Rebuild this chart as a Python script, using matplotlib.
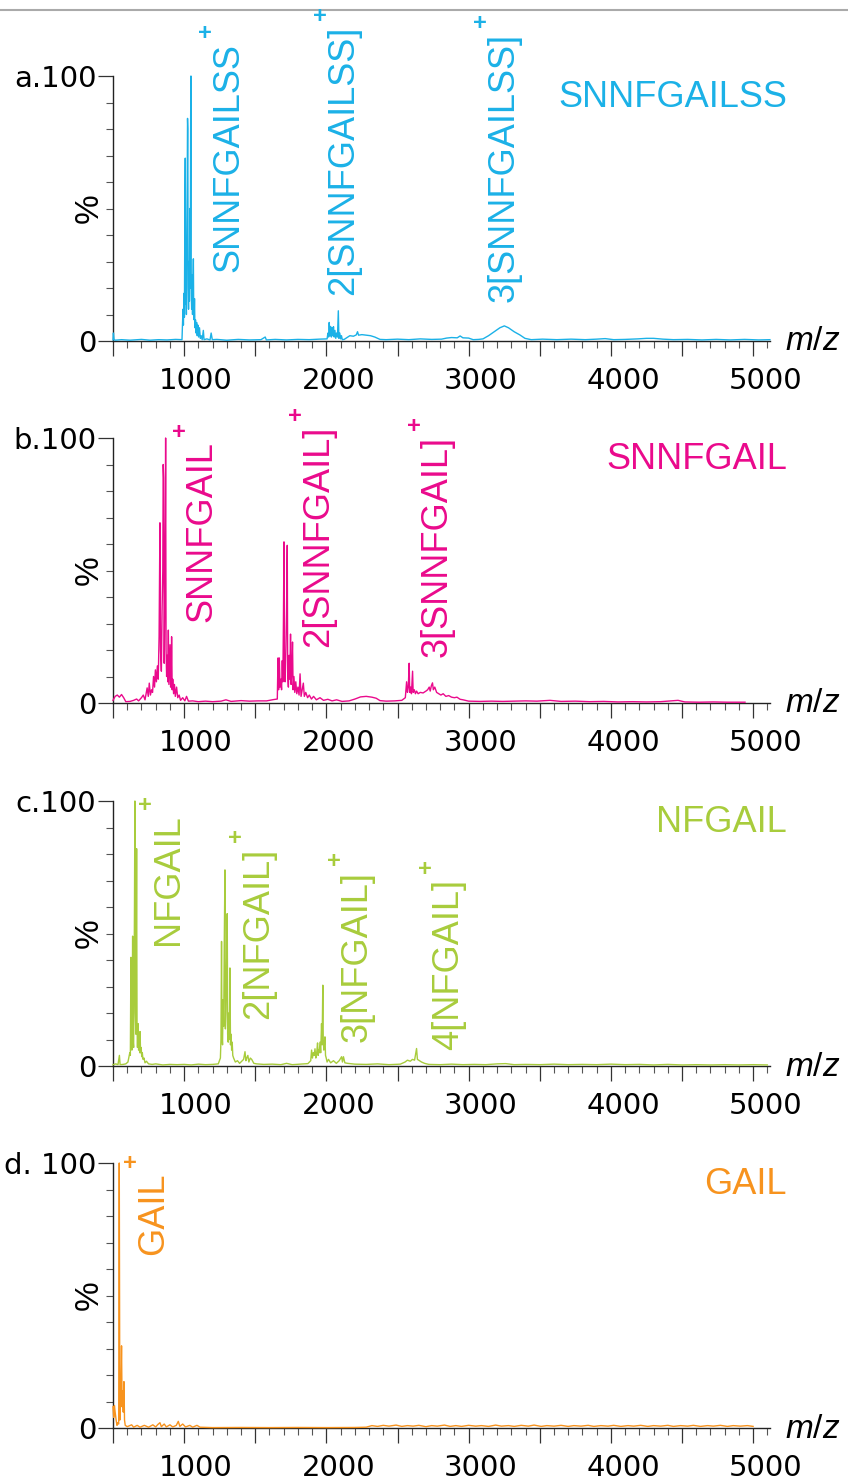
import matplotlib
matplotlib.use("Agg")
import matplotlib.pyplot as plt
import numpy as np
from matplotlib.lines import Line2D
from matplotlib.transforms import ScaledTranslation, blended_transform_factory

plt.rcParams['mathtext.fontset'] = 'custom'
plt.rcParams['mathtext.rm'] = 'Liberation Sans'
plt.rcParams['mathtext.it'] = 'Liberation Sans:italic'

# mass spectra: (m/z, relative intensity %)
spec_a = [
    (500, 0.4), (503, 3.0), (507, 0.6), (515, 0.3), (560, 0.5), (620, 0.3), (700, 0.6), (760, 0.3),
    (820, 0.5), (880, 0.4), (940, 0.6), (985, 0.5),
    (992, 12), (995, 6), (999, 18), (1002, 9), (1005, 45), (1008, 69), (1010, 14), (1013, 22),
    (1016, 10), (1019, 40), (1022, 60), (1024, 84), (1026, 80), (1028, 20), (1031, 12), (1034, 30),
    (1037, 15), (1040, 50), (1043, 20), (1046, 85), (1048, 100), (1050, 18), (1053, 12), (1056, 25),
    (1059, 10), (1062, 20), (1065, 31), (1067, 14), (1070, 8), (1073, 16), (1076, 5), (1080, 8),
    (1084, 3), (1088, 7), (1092, 2), (1097, 6), (1102, 1.5), (1108, 5), (1114, 1), (1120, 2),
    (1127, 0.5), (1135, 4), (1140, 0.5), (1160, 0.8), (1182, 0.4), (1190, 3), (1198, 0.5),
    (1230, 0.6), (1300, 0.3), (1380, 0.6), (1460, 0.4), (1540, 0.5), (1570, 1.5), (1578, 0.4),
    (1640, 0.6), (1720, 0.4), (1800, 0.6), (1880, 0.5), (1950, 0.7), (2005, 0.8),
    (2011, 3), (2016, 1.5), (2020, 7), (2024, 2), (2030, 5.5), (2035, 1.5), (2040, 5), (2045, 2),
    (2050, 5.4), (2055, 1.5), (2060, 4), (2066, 1), (2072, 3), (2078, 1.5), (2084, 11.4), (2088, 1),
    (2094, 3), (2100, 0.8), (2106, 2), (2112, 0.5), (2125, 0.6), (2142, 1.2), (2165, 2), (2190, 1.8),
    (2210, 2.3), (2219, 3.5), (2226, 2.2), (2250, 2.4), (2280, 2.2), (2310, 2), (2340, 1.5),
    (2377, 0.6), (2420, 0.5), (2500, 0.7), (2580, 0.5), (2660, 0.8), (2740, 0.6), (2810, 0.7),
    (2845, 1.1), (2880, 1.3), (2920, 1.2), (2940, 1.9), (2960, 1.2), (3000, 1.1), (3032, 0.5),
    (3070, 0.6), (3101, 0.8), (3140, 2.0), (3180, 3.5), (3220, 5.0), (3251, 5.7), (3280, 5.0),
    (3320, 3.5), (3360, 2.3), (3396, 1.0), (3440, 0.5), (3520, 0.7), (3620, 0.5), (3720, 0.7),
    (3820, 0.5), (3900, 0.7), (3960, 0.9), (4020, 0.5), (4100, 0.6), (4190, 0.8), (4250, 1.0),
    (4300, 1.0), (4366, 0.7), (4440, 0.5), (4540, 0.6), (4640, 0.4), (4740, 0.6), (4840, 0.4),
    (4940, 0.6), (5040, 0.4), (5118, 0.5),
]

spec_b = [
    (500, 1.0), (515, 2.5), (530, 3.0), (545, 2.2), (560, 3.2), (575, 2.0), (590, 0.5), (620, 0.6),
    (645, 1.0), (666, 1.5), (680, 0.8), (700, 2.0), (713, 3.0), (725, 1.2), (740, 5.7), (748, 2.5),
    (755, 7.5), (763, 3), (771, 5), (778, 4), (785, 10), (792, 6), (798, 12.5), (805, 8), (812, 14),
    (818, 9), (824, 25), (830, 68), (834, 20), (840, 12), (845, 35), (850, 50), (853, 90), (856, 85),
    (860, 15), (864, 40), (868, 70), (870, 100), (873, 20), (877, 10), (881, 18), (885, 8),
    (889, 27.5), (893, 7), (897, 14), (901, 22), (905, 6), (909, 10), (912, 25), (916, 5), (920, 9),
    (926, 3.5), (932, 7), (938, 2.5), (947, 6), (955, 2), (965, 3), (975, 1), (990, 2), (1005, 0.8),
    (1017, 2.5), (1030, 0.7), (1060, 0.8), (1100, 0.5), (1150, 0.7), (1200, 0.5), (1260, 0.7),
    (1294, 1.2), (1330, 0.6), (1400, 0.9), (1460, 0.7), (1520, 0.8), (1580, 0.8), (1630, 1.3),
    (1655, 1.5),
    (1660, 17), (1664, 5), (1669, 17), (1674, 6), (1680, 9), (1685, 5), (1690, 16), (1694, 8),
    (1698, 30), (1702, 60.8), (1705, 12), (1710, 8), (1715, 20), (1720, 35), (1725, 59.5), (1728, 10),
    (1733, 6), (1738, 18), (1743, 9), (1748, 26), (1752, 7), (1757, 12), (1762, 23), (1766, 5),
    (1772, 10), (1778, 4), (1785, 8), (1792, 3.5), (1800, 6), (1808, 3), (1815, 11), (1822, 2.5),
    (1830, 5), (1838, 7.5), (1845, 2.5), (1855, 4), (1868, 2), (1880, 3), (1895, 1.5), (1910, 2.5),
    (1930, 1.2), (1955, 2), (1980, 1.0), (2010, 1.4), (2040, 0.8), (2072, 1.2), (2110, 0.6),
    (2160, 0.8), (2201, 1.5), (2240, 2.3), (2280, 2.5), (2320, 2.2), (2350, 1.8), (2377, 0.9),
    (2420, 0.7), (2480, 0.8), (2530, 1.0), (2555, 2),
    (2564, 8), (2570, 4), (2576, 6), (2582, 15), (2586, 4), (2592, 6), (2598, 3.5), (2606, 12),
    (2610, 4), (2618, 5), (2626, 3.5), (2634, 4.5), (2645, 3.5), (2660, 4), (2680, 3.8), (2700, 4.5),
    (2712, 5), (2723, 6), (2730, 4.5), (2738, 6.5), (2746, 7.6), (2752, 5), (2762, 6), (2775, 4),
    (2790, 3.5), (2805, 3), (2821, 3.5), (2840, 2.5), (2860, 2.8), (2880, 2.2), (2900, 2.0),
    (2918, 2.2), (2940, 1.4), (2961, 1.2), (3000, 0.7), (3080, 0.6), (3160, 0.7), (3240, 0.6),
    (3320, 0.7), (3400, 0.8), (3480, 0.7), (3572, 1.0), (3650, 0.6), (3750, 0.7), (3850, 0.5),
    (3950, 0.6), (4050, 0.4), (4150, 0.5), (4250, 0.4), (4350, 0.5), (4472, 1.0), (4520, 0.4),
    (4620, 0.3), (4720, 0.4), (4820, 0.3), (4943, 0.3),
]

spec_c = [
    (500, 0.5), (520, 0.8), (535, 0.5), (545, 4), (550, 0.5), (570, 0.6), (590, 0.8), (605, 1.5),
    (612, 3.5), (618, 5), (622, 4), (626, 41), (629, 8), (633, 6), (638, 49), (641, 10), (645, 7),
    (648, 30), (651, 60), (654, 100), (657, 20), (661, 12), (664, 60), (666, 82), (669, 15), (672, 7),
    (676, 16), (680, 6), (684, 8), (688, 5), (690, 13), (694, 5), (698, 7), (702, 3.5), (706, 5),
    (711, 2.5), (718, 3), (725, 1.2), (735, 1.8), (750, 0.8), (775, 0.6), (800, 0.8), (850, 0.4),
    (900, 0.6), (950, 0.5), (1000, 0.6), (1050, 0.4), (1100, 0.7), (1150, 0.5), (1200, 0.6),
    (1240, 0.8), (1255, 3),
    (1259, 10), (1263, 47), (1266, 12), (1270, 8), (1274, 25), (1278, 15), (1282, 45), (1287, 74),
    (1290, 14), (1294, 20), (1298, 35), (1303, 57.5), (1306, 12), (1310, 9), (1314, 20), (1318, 10),
    (1322, 37), (1326, 8), (1330, 12), (1334, 6), (1338, 9), (1342, 4), (1348, 3), (1360, 1.5),
    (1375, 2), (1390, 1), (1405, 1.8), (1418, 2.5), (1428, 5.4), (1434, 2), (1440, 3), (1448, 4),
    (1455, 1.5), (1465, 3), (1475, 2.5), (1490, 1), (1510, 0.8), (1560, 0.6), (1620, 0.7),
    (1680, 0.5), (1720, 1.0), (1760, 0.5), (1820, 0.7), (1870, 0.9), (1890, 2),
    (1896, 6), (1902, 3), (1908, 5), (1914, 4), (1920, 6.5), (1926, 3), (1932, 5), (1938, 8.7),
    (1942, 4), (1946, 6), (1950, 5), (1955, 9), (1960, 5), (1966, 16), (1970, 8), (1975, 30.5),
    (1978, 10), (1982, 6), (1986, 8), (1990, 11), (1994, 4), (1999, 3), (2005, 1.5), (2015, 2.5),
    (2030, 1.2), (2050, 2), (2070, 1), (2090, 2), (2107, 3.5), (2113, 1.5), (2120, 3.5), (2130, 1.2),
    (2150, 1.0), (2200, 0.7), (2280, 0.6), (2360, 0.8), (2440, 0.5), (2520, 0.7), (2553, 1.5),
    (2570, 2.2), (2590, 1.8), (2605, 2.5), (2620, 2.2), (2634, 6.6), (2640, 2.5), (2655, 2),
    (2669, 1.5), (2690, 1.0), (2720, 0.6), (2800, 0.5), (2880, 0.7), (2960, 0.5), (3040, 0.6),
    (3120, 0.5), (3200, 0.8), (3260, 0.9), (3320, 0.5), (3400, 0.6), (3500, 0.5), (3600, 0.7),
    (3700, 0.5), (3800, 0.6), (3900, 0.5), (4000, 0.7), (4100, 0.5), (4200, 0.6), (4300, 0.4),
    (4400, 0.6), (4500, 0.4), (4600, 0.5), (4700, 0.4), (4800, 0.5), (4900, 0.4), (5000, 0.5),
    (5100, 0.4),
]

spec_d = [
    (500, 8), (505, 4), (510, 8.5), (515, 6), (522, 3), (528, 1), (534, 2), (540, 1.5), (544, 100),
    (548, 3), (553, 12), (557, 20), (560, 31), (564, 8), (568, 14), (572, 6), (577, 17.5), (581, 3),
    (586, 1), (600, 0.5), (631, 1.2), (645, 0.3), (670, 1), (690, 0.3), (720, 1), (750, 0.3),
    (780, 1.2), (800, 0.4), (815, 1.3), (830, 2), (840, 0.5), (860, 1.5), (875, 0.4), (900, 1.2),
    (920, 0.4), (945, 1), (959, 2.5), (970, 0.6), (990, 1.5), (1010, 0.4), (1040, 1), (1060, 0.3),
    (1090, 1), (1112, 0.3), (1200, 0.15), (1400, 0.2), (1600, 0.15), (1800, 0.2), (2000, 0.15),
    (2200, 0.2), (2280, 0.3), (2320, 0.9), (2360, 0.6), (2400, 1.0), (2440, 0.7), (2490, 1.1),
    (2530, 0.6), (2570, 0.9), (2610, 0.7), (2650, 1.0), (2700, 0.5), (2740, 0.9), (2780, 0.7),
    (2830, 1.1), (2870, 0.6), (2910, 0.9), (2950, 0.6), (3000, 1.0), (3050, 0.7), (3090, 0.9),
    (3140, 0.6), (3190, 1.1), (3230, 0.7), (3280, 0.9), (3320, 0.6), (3370, 1.0), (3420, 0.7),
    (3460, 1.1), (3510, 0.6), (3550, 0.9), (3600, 0.7), (3650, 1.0), (3700, 0.6), (3740, 0.9),
    (3790, 0.7), (3840, 1.0), (3880, 0.6), (3930, 0.9), (3980, 0.7), (4020, 1.0), (4070, 0.6),
    (4120, 0.9), (4160, 0.7), (4210, 1.0), (4260, 0.6), (4300, 0.9), (4350, 0.7), (4400, 1.0),
    (4440, 0.6), (4490, 0.9), (4540, 0.7), (4580, 1.0), (4630, 0.6), (4680, 0.9), (4720, 0.7),
    (4770, 1.0), (4820, 0.6), (4860, 0.9), (4910, 0.7), (4960, 0.9), (5000, 0.6),
]

panel_letters = ['a.', 'b.', 'c.', 'd. ']
names = ['SNNFGAILSS', 'SNNFGAIL', 'NFGAIL', 'GAIL']
colors = ['#1bb1e7', '#ea0a8c', '#a8cc3c', '#f7931e']
spectra = [spec_a, spec_b, spec_c, spec_d]

# peak annotations: (text, m/z at baseline, intensity % where the text starts)
peak_labels = [
    [('SNNFGAILSS', 1381, 26.2), ('2[SNNFGAILSS]', 2187, 17.4), ('3[SNNFGAILSS]', 3314, 14.8)],
    [('SNNFGAIL', 1194, 30.6), ('2[SNNFGAIL]', 2014, 21.2), ('3[SNNFGAIL]', 2846, 17.4)],
    [('NFGAIL', 959, 45.5), ('2[NFGAIL]', 1592, 17.9), ('3[NFGAIL]', 2283, 9.1),
     ('4[NFGAIL]', 2927, 6.0)],
    [('GAIL', 854, 65.3)],
]

x_ticks = np.arange(500, 5001, 500)
x_labels = [str(v) if v % 1000 == 0 else '' for v in x_ticks]

W, H = 848, 1483
fig = plt.figure(figsize=(W / 100, H / 100), dpi=100)

# grey rule across the top
fig.add_artist(Line2D([0, 1], [1 - 9.5 / H, 1 - 9.5 / H], transform=fig.transFigure,
                      color='#aaaaaa', lw=1.5))

px_per_unit = 0.14225
x_left = 113
axis_zero_y = [341, 703, 1066, 1428]
panel_h = 265
xlim = (500, 5120)
ax_w = (xlim[1] - xlim[0]) * px_per_unit

charge_marks = []
for i in range(4):
    y0 = axis_zero_y[i]
    ax = fig.add_axes([x_left / W, (H - y0) / H, ax_w / W, panel_h / H])
    data = np.array(spectra[i])
    ax.plot(data[:, 0], data[:, 1], color=colors[i], lw=1.0, clip_on=False, zorder=3)

    ax.set_xlim(*xlim)
    ax.set_ylim(0, 100)
    for s in ['top', 'right']:
        ax.spines[s].set_visible(False)
    for s in ['left', 'bottom']:
        ax.spines[s].set_linewidth(1.0)
        ax.spines[s].set_color('#222222')

    ax.set_xticks(x_ticks)
    ax.set_xticklabels(x_labels)
    ax.set_xticks(np.arange(500, 5101, 100), minor=True)
    ax.set_yticks([0, 100])
    ax.set_yticklabels(['0', panel_letters[i] + '100'])
    ax.set_yticks(np.arange(10, 100, 10), minor=True)

    ax.tick_params(axis='both', which='major', direction='out', length=11, width=0.9,
                   color='#333333', labelsize=21)
    ax.tick_params(axis='both', which='minor', direction='out', length=5, width=0.8,
                   color='#555555')
    ax.tick_params(axis='x', which='major', pad=8)
    ax.tick_params(axis='y', which='major', pad=1)
    for lab in ax.get_xticklabels():
        lab.set_fontfamily('DejaVu Sans')
        lab.set_transform(lab.get_transform() + ScaledTranslation(0.12, 0, fig.dpi_scale_trans))
    for lab in ax.get_yticklabels():
        lab.set_fontfamily('DejaVu Sans')

    ax.text(-24 / ax_w, 0.5, '%', transform=ax.transAxes, rotation=90, ha='center',
            va='center', fontsize=24, family='Liberation Sans')
    ax.text(672 / ax_w, 0, '$m/z$', transform=ax.transAxes,
            ha='left', va='center', fontsize=24)

    # compound name on the right
    ax.text((787 - x_left) / ax_w, 88.3, names[i],
            transform=blended_transform_factory(ax.transAxes, ax.transData),
            ha='right', va='baseline', fontsize=26, family='Liberation Sans', color=colors[i])

    for txt, mz, pct in peak_labels[i]:
        t = ax.text(mz, pct, txt, rotation=90, rotation_mode='anchor', ha='left',
                    va='baseline', fontsize=26, family='Liberation Sans', color=colors[i],
                    clip_on=False)
        charge_marks.append((ax, t, mz, colors[i]))

# small "+" charge sign above and left of each rotated label
fig.canvas.draw()
renderer = fig.canvas.get_renderer()
for ax, t, mz, col in charge_marks:
    bb = t.get_window_extent(renderer)
    x_base = ax.transData.transform((mz, 0))[0]
    fig.text(x_base - 33, bb.y1 + 9, '+', transform=None, ha='center', va='center',
             fontsize=17, fontweight='bold', family='Liberation Sans', color=col)

fig.savefig('out.png', dpi=100)
